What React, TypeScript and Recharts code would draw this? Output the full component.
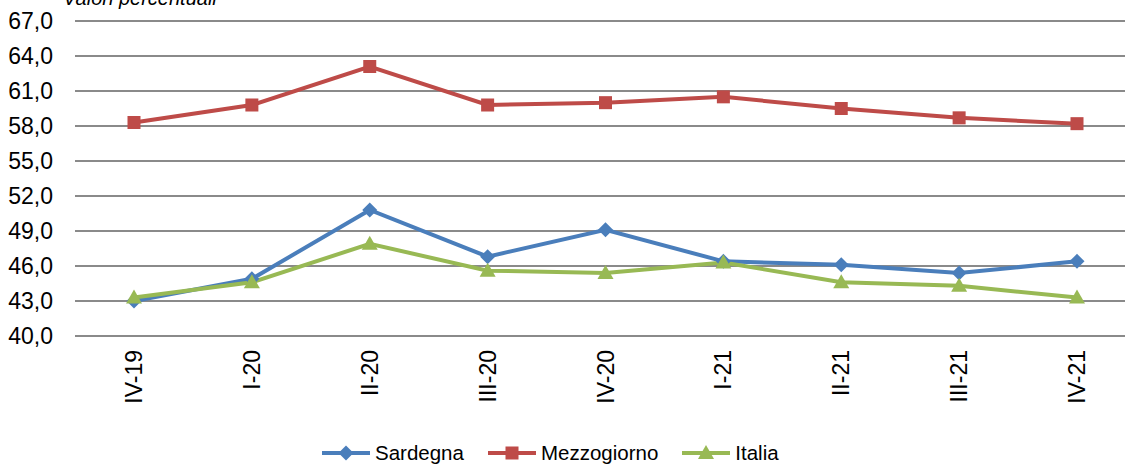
import React from 'react';
import { LineChart, Line, XAxis, YAxis, CartesianGrid, Legend } from 'recharts';

const quarters = ['IV-19', 'I-20', 'II-20', 'III-20', 'IV-20', 'I-21', 'II-21', 'III-21', 'IV-21'];
const sardegna = [43.0, 44.9, 50.8, 46.8, 49.1, 46.4, 46.1, 45.4, 46.4];
const mezzogiorno = [58.3, 59.8, 63.1, 59.8, 60.0, 60.5, 59.5, 58.7, 58.2];
const italia = [43.3, 44.6, 47.9, 45.6, 45.4, 46.3, 44.6, 44.3, 43.3];
const yTicks = [40, 43, 46, 49, 52, 55, 58, 61, 64, 67];

const FONT = '"Liberation Sans", Arial, sans-serif';
const BLUE = '#4a7ebb';
const RED = '#be4b48';
const GREEN = '#98b954';

const data = quarters.map((q, i) => ({
  q,
  sardegna: sardegna[i],
  mezzogiorno: mezzogiorno[i],
  italia: italia[i],
}));

const Diamond = ({ cx, cy, color }: any) => (
  <path d={`M${cx},${cy - 7.5}L${cx + 7.5},${cy}L${cx},${cy + 7.5}L${cx - 7.5},${cy}Z`} fill={color} />
);
const Square = ({ cx, cy, color }: any) => (
  <rect x={cx - 6.5} y={cy - 6.5} width={13} height={13} fill={color} />
);
const Triangle = ({ cx, cy, color }: any) => (
  <path d={`M${cx},${cy - 8}L${cx + 8},${cy + 6}L${cx - 8},${cy + 6}Z`} fill={color} />
);

const XTick = ({ x, y, payload }: any) => (
  <text
    x={x}
    y={y}
    transform={`rotate(-90 ${x} ${y})`}
    textAnchor="end"
    dy="0.35em"
    fontSize={23}
    fontFamily={FONT}
    fill="#000"
  >
    {payload.value}
  </text>
);

const legendItems = [
  { name: 'Sardegna', color: BLUE, Mark: Diamond },
  { name: 'Mezzogiorno', color: RED, Mark: Square },
  { name: 'Italia', color: GREEN, Mark: Triangle },
];

const LegendContent = () => (
  <div style={{ display: 'flex', alignItems: 'center', fontFamily: FONT, fontSize: 20.5, color: '#000' }}>
    {legendItems.map(({ name, color, Mark }) => (
      <div key={name} style={{ display: 'flex', alignItems: 'center', marginRight: 24 }}>
        <svg width={48} height={20}>
          <line x1={0} y1={10} x2={48} y2={10} stroke={color} strokeWidth={4} />
          <Mark cx={24} cy={10} color={color} />
        </svg>
        <span style={{ marginLeft: 5 }}>{name}</span>
      </div>
    ))}
  </div>
);

export default function App() {
  return (
    <div style={{ position: 'absolute', left: 0, top: 0, width: 1125, height: 466, overflow: 'hidden', background: '#fff' }}>
      <div
        style={{
          position: 'absolute',
          left: 63,
          top: -12,
          fontFamily: FONT,
          fontStyle: 'italic',
          fontSize: 20,
          lineHeight: '20px',
          whiteSpace: 'nowrap',
        }}
      >
        Valori percentuali
      </div>
      <LineChart width={1140} height={466} data={data} margin={{ top: 21, right: 4, left: 0, bottom: 0 }}>
        <CartesianGrid vertical={false} stroke="#8a8a8a" strokeWidth={2} />
        <XAxis
          dataKey="q"
          axisLine={false}
          tickLine={false}
          tickMargin={8}
          height={100}
          interval={0}
          padding={{ left: 59, right: 59 }}
          tick={<XTick />}
        />
        <YAxis
          domain={[40, 67]}
          ticks={yTicks}
          axisLine={false}
          tickLine={false}
          tickMargin={16}
          width={75}
          interval={0}
          tickFormatter={(v: number) => v.toFixed(1).replace('.', ',')}
          tick={{ fill: '#000', fontSize: 23, fontFamily: FONT }}
        />
        <Legend
          verticalAlign="bottom"
          height={30}
          wrapperStyle={{ left: 322, top: 441, width: 'auto' }}
          content={<LegendContent />}
        />
        <Line
          dataKey="mezzogiorno"
          stroke={RED}
          strokeWidth={4}
          isAnimationActive={false}
          dot={(p: any) => <Square key={p.index} cx={p.cx} cy={p.cy} color={RED} />}
        />
        <Line
          dataKey="sardegna"
          stroke={BLUE}
          strokeWidth={4}
          isAnimationActive={false}
          dot={(p: any) => <Diamond key={p.index} cx={p.cx} cy={p.cy} color={BLUE} />}
        />
        <Line
          dataKey="italia"
          stroke={GREEN}
          strokeWidth={4}
          isAnimationActive={false}
          dot={(p: any) => <Triangle key={p.index} cx={p.cx} cy={p.cy} color={GREEN} />}
        />
      </LineChart>
    </div>
  );
}
